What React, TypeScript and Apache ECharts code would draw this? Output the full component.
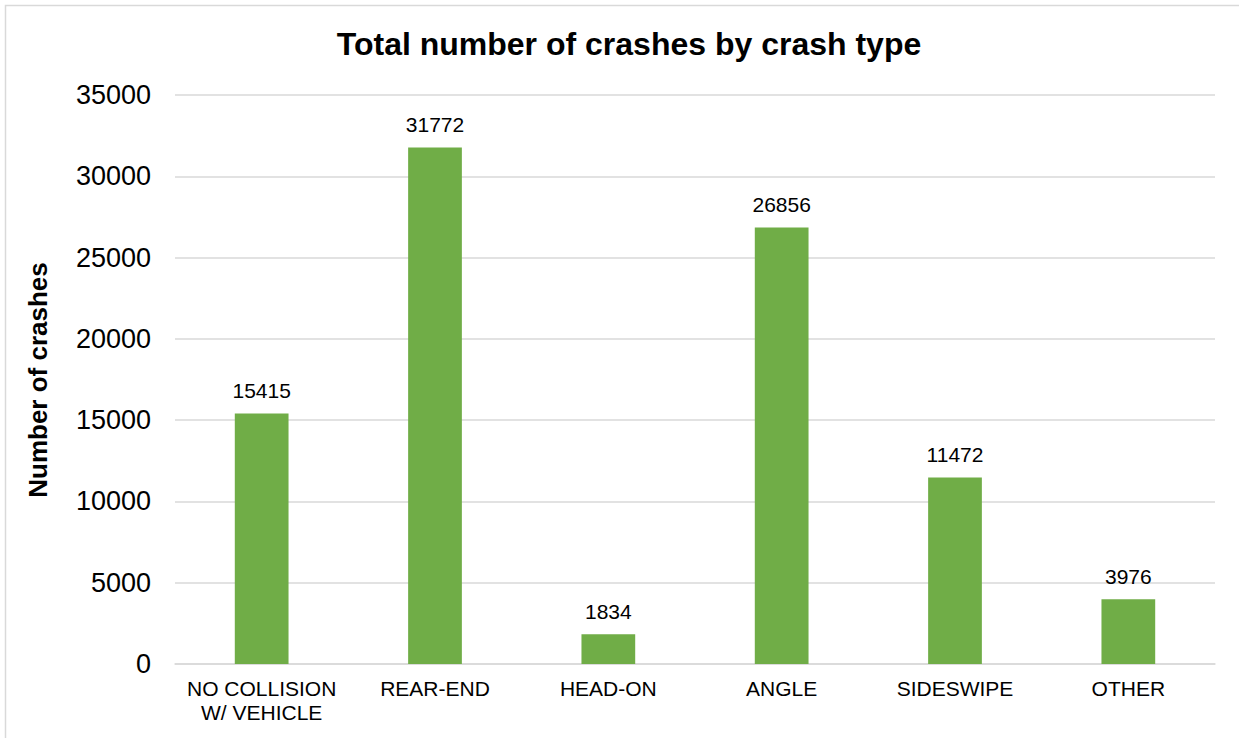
import React, { useEffect, useRef } from "react";
import * as echarts from "echarts";

const categories = ["NO COLLISION\nW/ VEHICLE", "REAR-END", "HEAD-ON", "ANGLE", "SIDESWIPE", "OTHER"];
const crashCounts = [15415, 31772, 1834, 26856, 11472, 3976];
const titleText = "Total number of crashes by crash type";
const yAxisTitle = "Number of crashes";

const FONT = "'Liberation Sans', Arial, sans-serif";

export default function App() {
  const ref = useRef<HTMLDivElement>(null);
  useEffect(() => {
    if (!ref.current) return;
    const chart = echarts.init(ref.current, null, { renderer: "svg" });
    chart.setOption({
      animation: false,
      backgroundColor: "#ffffff",
      graphic: [
        {
          type: "rect",
          shape: { x: 5.5, y: 5.5, width: 1300, height: 800 },
          style: { fill: "none", stroke: "#d9d9d9", lineWidth: 1.5 },
          silent: true,
        },
        {
          type: "text",
          x: 38,
          y: 380,
          rotation: Math.PI / 2,
          style: {
            text: yAxisTitle,
            font: `bold 26px ${FONT}`,
            fill: "#000",
            align: "center",
            verticalAlign: "middle",
          },
        },
      ],
      title: {
        text: titleText,
        left: 624,
        top: 23,
        textAlign: "center",
        textStyle: { fontFamily: FONT, fontWeight: "bold", fontSize: 32, color: "#000" },
      },
      grid: { left: 175, right: 24, top: 95, bottom: 74, containLabel: false },
      xAxis: {
        type: "category",
        data: categories,
        axisLine: { show: true, lineStyle: { color: "#d9d9d9", width: 1.5 } },
        axisTick: { show: false },
        axisLabel: {
          fontFamily: FONT,
          fontSize: 21,
          color: "#000",
          margin: 12,
          lineHeight: 24,
          interval: 0,
        },
      },
      yAxis: {
        type: "value",
        min: 0,
        max: 35000,
        interval: 5000,
        axisLine: { show: false },
        axisTick: { show: false },
        splitLine: { lineStyle: { color: "#d9d9d9", width: 1.5 } },
        axisLabel: {
          fontFamily: FONT,
          fontSize: 27,
          color: "#000",
          margin: 24,
          formatter: (v: number) => String(v),
        },
      },
      series: [
        {
          type: "bar",
          data: crashCounts,
          barWidth: "31%",
          itemStyle: { color: "#70AD47" },
          label: {
            show: true,
            position: "top",
            distance: 12,
            fontFamily: FONT,
            fontSize: 21,
            color: "#000",
          },
        },
      ],
    });
    return () => chart.dispose();
  }, []);
  return (
    <div
      ref={ref}
      style={{ position: "absolute", left: 0, top: 0, width: 1239, height: 738 }}
    />
  );
}
